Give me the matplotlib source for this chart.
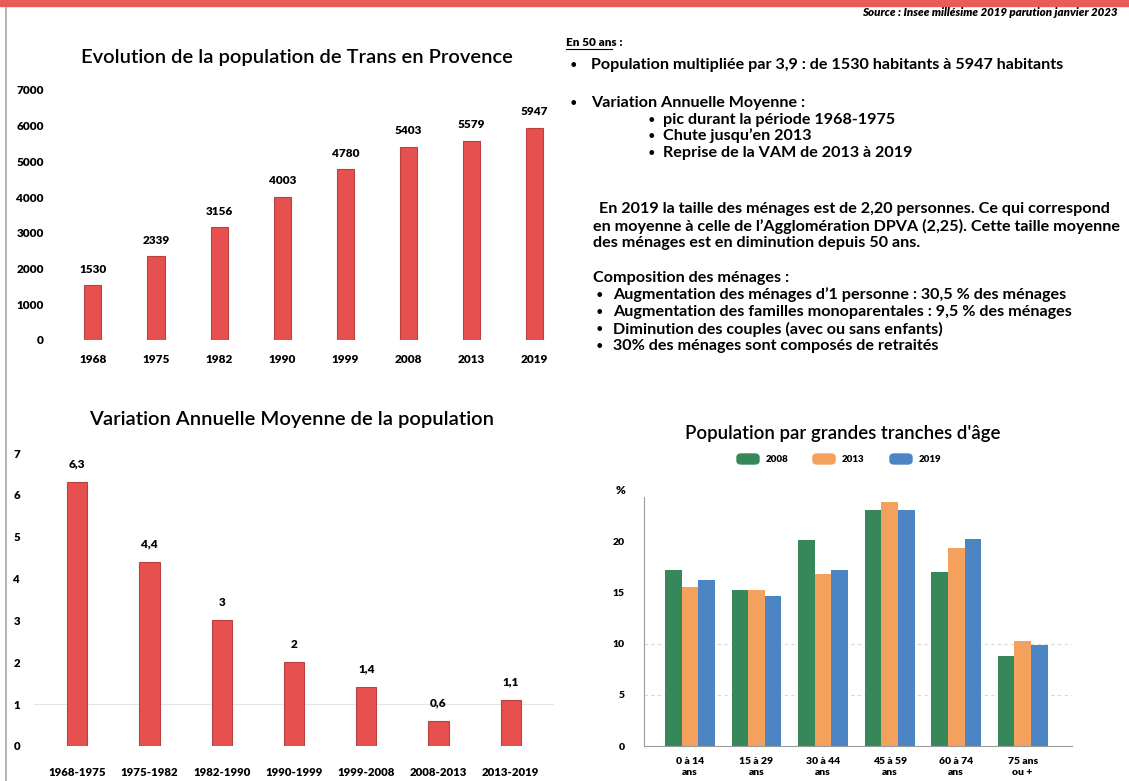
import numpy as np
import matplotlib
matplotlib.use('Agg')
import matplotlib.pyplot as plt
from matplotlib.patches import FancyBboxPatch

plt.rcParams['font.family'] = ['Lato', 'DejaVu Sans']

# ---- data ----
annees = ['1968', '1975', '1982', '1990', '1999', '2008', '2013', '2019']
population = [1530, 2339, 3156, 4003, 4780, 5403, 5579, 5947]
pop_labels = ['1530', '2339', '3156', '4003', '4780', '5403', '5579', '5947']

periodes = ['1968-1975', '1975-1982', '1982-1990', '1990-1999',
            '1999-2008', '2008-2013', '2013-2019']
vam = [6.3, 4.4, 3.0, 2.0, 1.4, 0.6, 1.1]
vam_labels = ['6,3', '4,4', '3', '2', '1,4', '0,6', '1,1']

tranches = ['0 à 14\nans', '15 à 29\nans', '30 à 44\nans',
            '45 à 59\nans', '60 à 74\nans', '75 ans\nou +']
series_annees = ['2008', '2013', '2019']
part_2008 = [17.2, 15.2, 20.1, 23.0, 17.0, 8.8]
part_2013 = [15.5, 15.2, 16.8, 23.8, 19.3, 10.2]
part_2019 = [16.2, 14.6, 17.2, 23.0, 20.2, 9.9]

W, H = 1129, 781
RED = '#e6504e'
RED_EDGE = '#b9423f'
COLS = ['#36875a', '#f5a15e', '#4d84c4']
HEAVY = 'heavy'


def px_axes(fig, x0, y0, x1, y1):
    """axes from pixel box (top-left origin)"""
    return fig.add_axes([x0 / W, 1 - y1 / H, (x1 - x0) / W, (y1 - y0) / H])


fig = plt.figure(figsize=(W / 100, H / 100), dpi=100)
fig.patch.set_facecolor('white')

# page decorations
fig.patches.append(plt.Rectangle((0, 1 - 6 / H), 1, 6 / H, transform=fig.transFigure,
                                 color='#ea5a58', zorder=0))
fig.lines.append(plt.Line2D([6 / W, 6 / W], [0, 1 - 8 / H], transform=fig.transFigure,
                            color='#a8a8a8', lw=1.2))
fig.text(1118 / W, 1 - 13 / H, 'Source : Insee millésime 2019 parution janvier 2023',
         ha='right', va='center', fontsize=8.3, fontweight=HEAVY, style='italic')

# ---- chart 1 : population ----
ax1 = px_axes(fig, 55, 90, 560, 340)
x = np.arange(len(annees))
ax1.bar(x, population, width=0.27, color=RED, edgecolor=RED_EDGE, lw=0.8)
for xi, v, lab in zip(x, population, pop_labels):
    ax1.text(xi, v + 300, lab, ha='center', va='bottom', fontsize=8.5, fontweight=HEAVY)
ax1.set_xlim(-0.6, 7.4)
ax1.set_ylim(0, 7000)
ax1.set_yticks(range(0, 7001, 1000))
ax1.set_xticks(x)
ax1.set_xticklabels(annees)
for s in ax1.spines.values():
    s.set_visible(False)
ax1.tick_params(length=0, labelsize=8.5, pad=10)
ax1.tick_params(axis='y', pad=8)
for t in ax1.get_xticklabels() + ax1.get_yticklabels():
    t.set_fontweight(HEAVY)
fig.text(297 / W, 1 - 58 / H, 'Evolution de la population de Trans en Provence',
         ha='center', va='center', fontsize=14.5, fontweight='semibold')

# ---- chart 2 : VAM ----
ax2 = px_axes(fig, 34, 453, 554, 746)
x2 = np.arange(len(periodes))
ax2.axhline(1, color='#e4e4e4', lw=0.8, zorder=0)
ax2.bar(x2, vam, width=0.28, color=RED, edgecolor=RED_EDGE, lw=0.8)
for xi, v, lab in zip(x2, vam, vam_labels):
    ax2.text(xi, v + 0.3, lab, ha='center', va='bottom', fontsize=8.5, fontweight=HEAVY)
ax2.set_xlim(-0.6, 6.6)
ax2.set_ylim(0, 7)
ax2.set_yticks(range(0, 8))
ax2.set_xticks(x2)
ax2.set_xticklabels(periodes)
for s in ax2.spines.values():
    s.set_visible(False)
ax2.tick_params(length=0, labelsize=8.2, pad=15)
ax2.tick_params(axis='y', pad=10)
for t in ax2.get_xticklabels() + ax2.get_yticklabels():
    t.set_fontweight(HEAVY)
fig.text(292 / W, 1 - 420 / H, 'Variation Annuelle Moyenne de la population',
         ha='center', va='center', fontsize=14.5, fontweight='semibold')

# ---- chart 3 : tranches d'age ----
ax3 = px_axes(fig, 644, 497, 1072, 746)
x3 = np.arange(len(tranches))
bw = 0.25
for k, (vals, lab) in enumerate(zip([part_2008, part_2013, part_2019], series_annees)):
    ax3.bar(x3 + (k - 1) * bw, vals, width=bw, color=COLS[k], label=lab, zorder=2)
for g in (5, 10):
    ax3.axhline(g, color='#d8d8d8', lw=0.8, ls=(0, (3, 3)), zorder=1)
ax3.set_xlim(-0.69, 5.74)
ax3.set_ylim(0, 24.3)
ax3.set_yticks([0, 5, 10, 15, 20])
ax3.set_xticks(x3)
ax3.set_xticklabels(tranches, linespacing=1.3)
ax3.spines['top'].set_visible(False)
ax3.spines['right'].set_visible(False)
ax3.spines['left'].set_color('#9a9a9a')
ax3.spines['bottom'].set_color('#9a9a9a')
ax3.tick_params(length=0, labelsize=7.5, pad=8)
ax3.tick_params(axis='y', pad=14)
for t in ax3.get_xticklabels() + ax3.get_yticklabels():
    t.set_fontweight(HEAVY)
fig.text(621 / W, 1 - 490 / H, '%', ha='center', va='center', fontsize=8.5, fontweight=HEAVY)
fig.text(843 / W, 1 - 434 / H, "Population par grandes tranches d'âge",
         ha='center', va='center', fontsize=13.4, fontweight='semibold')
# legend built by hand as rounded swatches
leg_x = [737, 813, 890]
for k, lab in enumerate(series_annees):
    fig.patches.append(FancyBboxPatch((leg_x[k] / W, 1 - 464 / H), 22 / W, 10 / H,
                                      boxstyle='round,pad=0,rounding_size=0.004',
                                      transform=fig.transFigure, color=COLS[k]))
    fig.text((leg_x[k] + 29) / W, 1 - 459 / H, lab, ha='left', va='center',
             fontsize=7, fontweight=HEAVY)

# ---- text block ----
fs = 11.6
fig.text(566 / W, 1 - 42 / H, 'En 50 ans :', fontsize=8.5, fontweight=HEAVY,
         va='center', ha='left')
fig.lines.append(plt.Line2D([566 / W, 612 / W], [1 - 49 / H, 1 - 49 / H],
                            transform=fig.transFigure, color='black', lw=0.8))


def bullet(xb, xt, y, txt, size=fs):
    fig.text(xb / W, 1 - y / H, '•', fontsize=size * 0.8, va='center', ha='left')
    fig.text(xt / W, 1 - y / H, txt, fontsize=size, fontweight='bold', va='center', ha='left')


bullet(570, 591, 65, 'Population multipliée par 3,9 : de 1530 habitants à 5947 habitants')
bullet(570, 591, 103, 'Variation Annuelle Moyenne :')
bullet(648, 663, 120, 'pic durant la période 1968-1975')
bullet(648, 663, 136, 'Chute jusqu’en 2013')
bullet(648, 663, 153, 'Reprise de la VAM de 2013 à 2019')

para = ['En 2019 la taille des ménages est de 2,20 personnes. Ce qui correspond',
        'en moyenne à celle de l’Agglomération DPVA (2,25). Cette taille moyenne',
        'des ménages est en diminution depuis 50 ans.']
for i, line in enumerate(para):
    fig.text((599 if i == 0 else 593) / W, 1 - (209 + 17 * i) / H, line, fontsize=fs,
             fontweight='bold', va='center', ha='left')

fig.text(593 / W, 1 - 278 / H, 'Composition des ménages :', fontsize=fs,
         fontweight='bold', va='center', ha='left')
compo = ['Augmentation des ménages d’1 personne : 30,5 % des ménages',
         'Augmentation des familles monoparentales : 9,5 % des ménages',
         'Diminution des couples (avec ou sans enfants)',
         '30% des ménages sont composés de retraités']
for i, line in enumerate(compo):
    bullet(596, 613, 295 + 17 * i, line)

fig.savefig('out.png', dpi=100)
